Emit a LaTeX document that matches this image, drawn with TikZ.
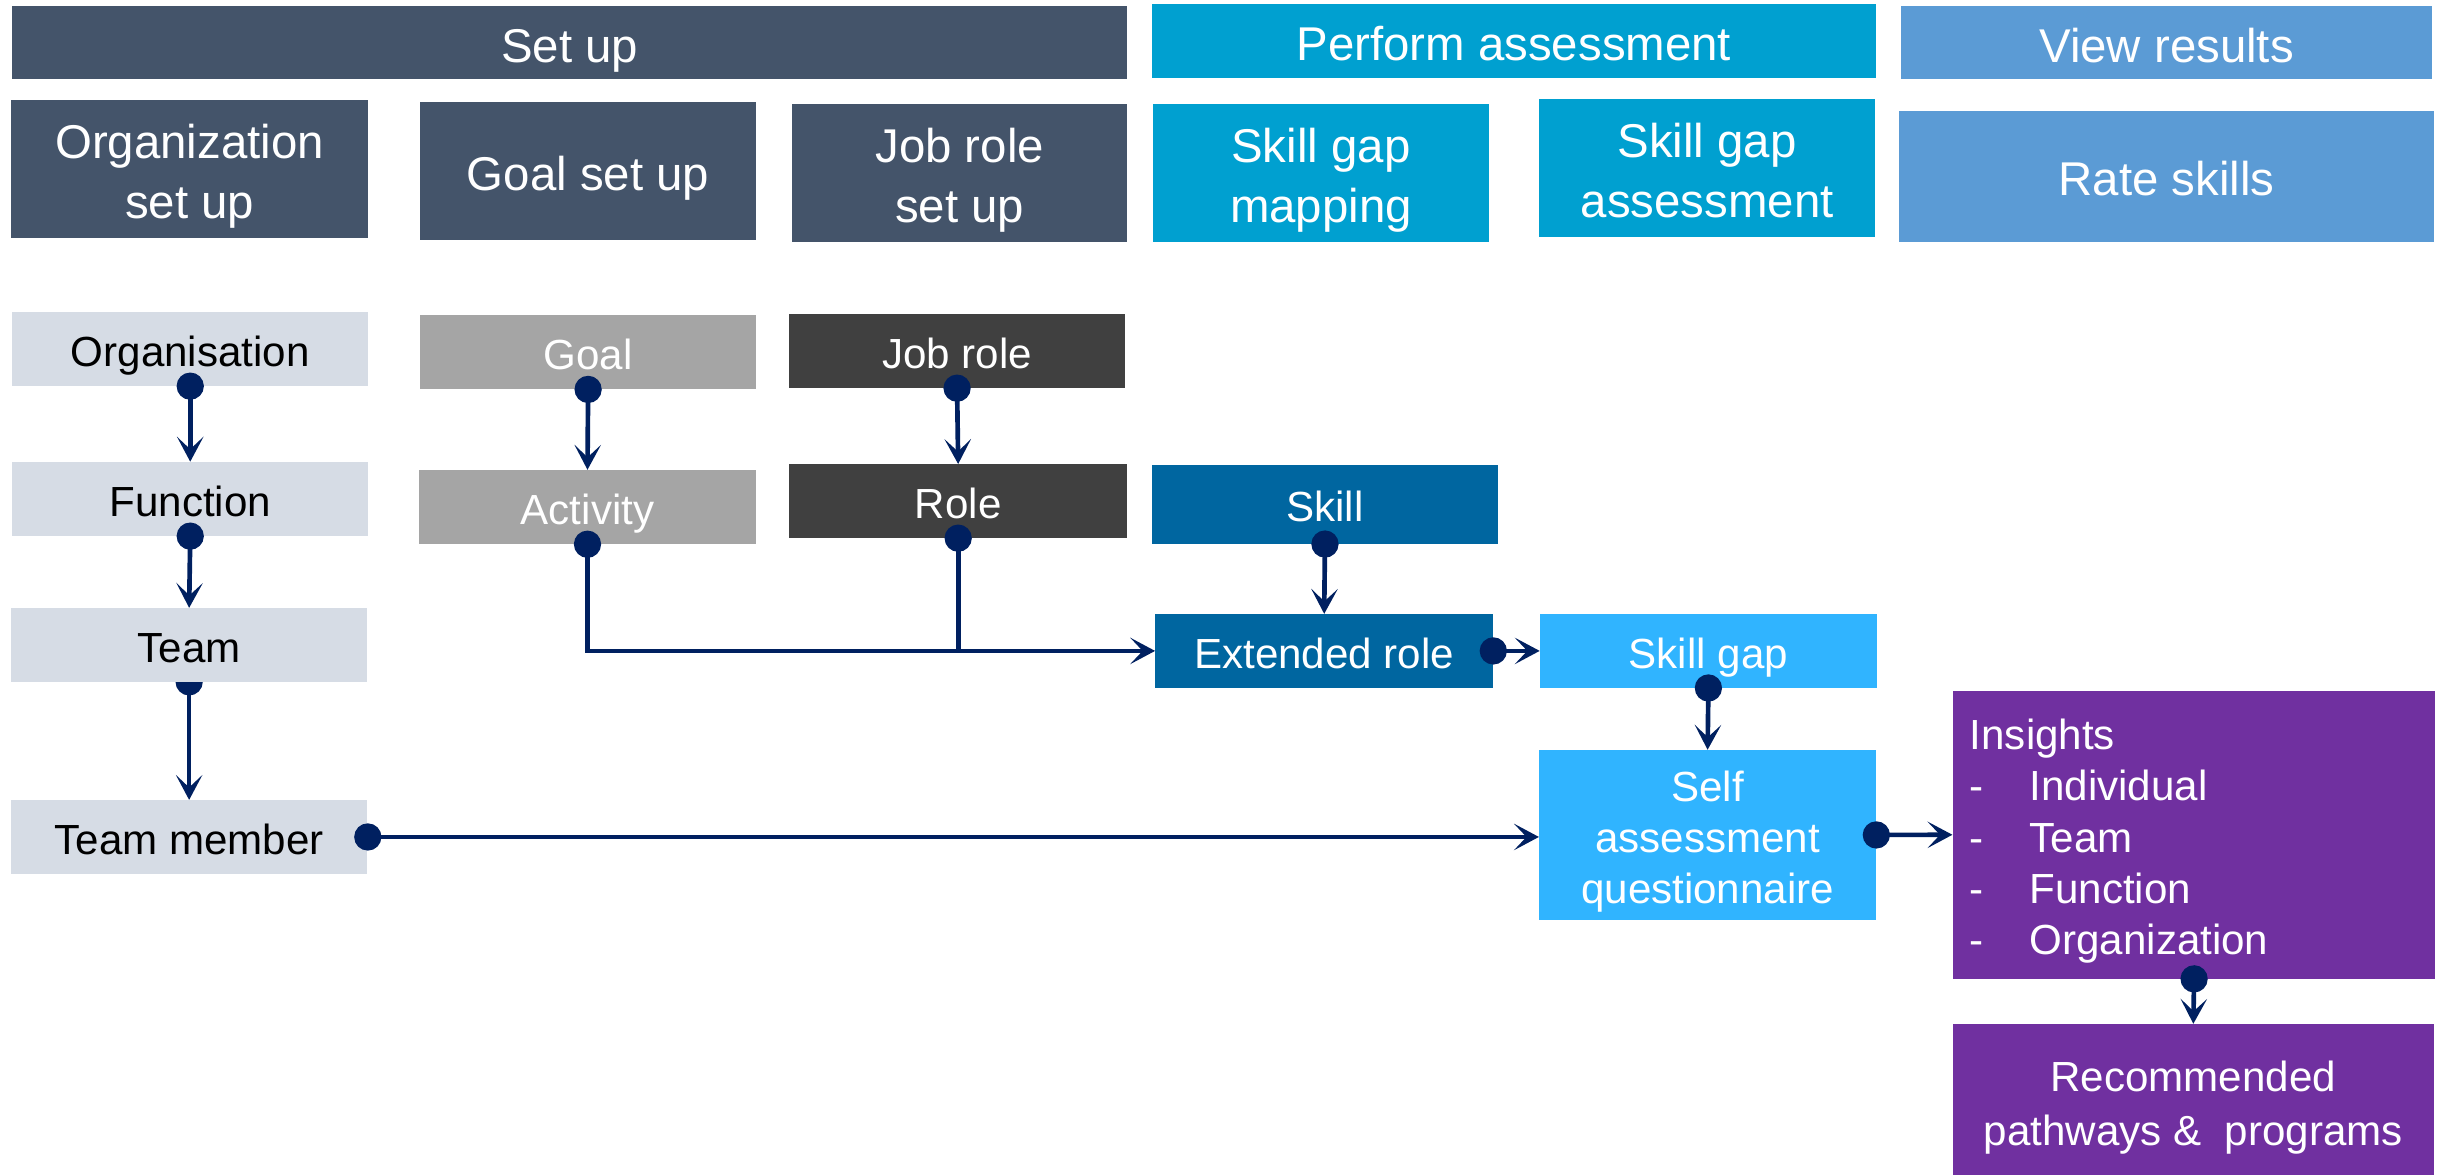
\documentclass[tikz,border=0pt]{standalone}
\usepackage{fontspec}
\setmainfont{Liberation Sans}
\usetikzlibrary{arrows.meta}
\definecolor{slate}{RGB}{68,84,106}
\definecolor{cyanbar}{RGB}{0,160,208}
\definecolor{viewblue}{RGB}{91,155,213}
\definecolor{paleslate}{RGB}{214,220,229}
\definecolor{goalgray}{RGB}{165,165,165}
\definecolor{jobgray}{RGB}{64,64,64}
\definecolor{skillblue}{RGB}{0,102,160}
\definecolor{gapblue}{RGB}{48,180,255}
\definecolor{insightpurple}{RGB}{112,48,160}
\definecolor{navy}{RGB}{0,32,96}
\newcommand{\lnstrut}{\rule[-0.21em]{0pt}{1.24em}}
\newcommand{\insdash}{\makebox[38.5pt][l]{-}}
\pgfdeclarelayer{bg}
\pgfsetlayers{bg,main}
\begin{document}
\begin{tikzpicture}[x=1pt,y=1pt,yscale=-1,
    box/.style={inner sep=0pt,align=center,text=white,execute at begin node=\lnstrut,execute at end node=\lnstrut},
    big/.style={box,font=\fontsize{30.5}{37.7}\selectfont},
    small/.style={box,font=\fontsize{27.1}{32.9}\selectfont},
    link/.style={draw=navy,line width=3pt,shorten <=-8.75pt,{Circle[length=17.5pt]}-{Stealth[length=16pt,width=17pt,inset=8pt]}},
    dotlink/.style={draw=navy,line width=3pt,shorten <=-8.75pt,{Circle[length=17.5pt]}-}]
        \useasboundingbox (0,0) rectangle (1568,755.4);

        \node[big,fill=slate,minimum width=717pt,minimum height=47pt] (setup) at (366.5,27.5) {Set up};
        \node[big,fill=cyanbar,minimum width=466pt,minimum height=47.5pt] (perform) at (974,26.25) {Perform assessment};
        \node[big,fill=viewblue,minimum width=342pt,minimum height=47pt] (view) at (1394,27.5) {View results};

        \node[big,fill=slate,minimum width=230pt,minimum height=88.7pt] (orgsetup) at (122,108.6) {\lnstrut Organization\\set up\lnstrut};
        \node[big,fill=slate,minimum width=216pt,minimum height=88.7pt] (goalsetup) at (378.4,110) {Goal set up};
        \node[big,fill=slate,minimum width=215.6pt,minimum height=88.4pt] (jobsetup) at (617.5,111.2) {\lnstrut Job role\\set up\lnstrut};
        \node[big,fill=cyanbar,minimum width=216pt,minimum height=88.4pt] (mapping) at (849.9,111.2) {\lnstrut Skill gap\\mapping\lnstrut};
        \node[big,fill=cyanbar,minimum width=216pt,minimum height=88.4pt] (gapassess) at (1098.4,108) {\lnstrut Skill gap\\assessment\lnstrut};
        \node[big,fill=viewblue,minimum width=344pt,minimum height=84pt] (rate) at (1394,113.4) {Rate skills};

        \node[small,fill=paleslate,text=black,minimum width=229pt,minimum height=47.5pt] (org) at (122.4,224.5) {Organisation};
        \node[small,fill=goalgray,minimum width=216pt,minimum height=47.7pt] (goal) at (378.4,226.5) {Goal};
        \node[small,fill=jobgray,minimum width=216pt,minimum height=47.3pt] (jobrole) at (615.8,225.9) {Job role};

        \node[small,fill=paleslate,text=black,minimum width=229pt,minimum height=47.5pt] (func) at (122.4,321) {Function};
        \node[small,fill=goalgray,minimum width=217pt,minimum height=47.5pt] (activity) at (378,326.2) {Activity};
        \node[small,fill=jobgray,minimum width=217.6pt,minimum height=47.3pt] (role) at (616.5,322.4) {Role};
        \node[small,fill=skillblue,minimum width=222.5pt,minimum height=50.7pt] (skill) at (852.5,324.5) {Skill};

        \node[small,fill=paleslate,text=black,minimum width=229.5pt,minimum height=47.2pt] (team) at (121.7,414.9) {Team};
        \node[small,fill=skillblue,minimum width=217.2pt,minimum height=47.3pt] (extrole) at (852,418.8) {Extended role};
        \node[small,fill=gapblue,minimum width=216.7pt,minimum height=47.3pt] (skillgap) at (1099.2,418.8) {Skill gap};

        \node[small,fill=paleslate,text=black,minimum width=229.5pt,minimum height=47.3pt] (member) at (121.7,538.5) {Team member};
        \node[small,fill=gapblue,minimum width=216.7pt,minimum height=109.2pt] (selfq) at (1098.7,537.2) {\lnstrut Self\\assessment\\questionnaire\lnstrut};
        \node[small,fill=insightpurple,align=left,inner xsep=11pt,text width=288.6pt,minimum width=310.6pt,minimum height=185pt] (insights) at (1411.7,537.1) {Insights\\\insdash Individual\\\insdash Team\\\insdash Function\\\insdash Organization};
        \node[small,fill=insightpurple,minimum width=309.6pt,minimum height=99.4pt] (recommend) at (1411.2,708.6) {\lnstrut Recommended\\pathways \&\ \ programs\lnstrut};

        \draw[link] (org.south) -- (func.north);
        \draw[link] (func.south) -- (team.north);
        \begin{pgfonlayer}{bg}
        \draw[link] (team.south) -- (member.north);
        \end{pgfonlayer}
        \draw[link] (goal.south) -- (activity.north);
        \draw[link] (jobrole.south) -- (role.north);
        \draw[link] (activity.south) |- (extrole.west);
        \draw[dotlink] (role.south) -- (role.south |- extrole.west);
        \draw[link] (skill.south) -- (extrole.north);
        \draw[link] (extrole.east) -- (skillgap.west);
        \draw[link] (skillgap.south) -- (selfq.north);
        \draw[link] (member.east) -- (member.east -| selfq.west);
        \draw[link] (selfq.east) -- (insights.west);
        \draw[link] (insights.south) -- (recommend.north);
    \end{tikzpicture}
\end{document}
